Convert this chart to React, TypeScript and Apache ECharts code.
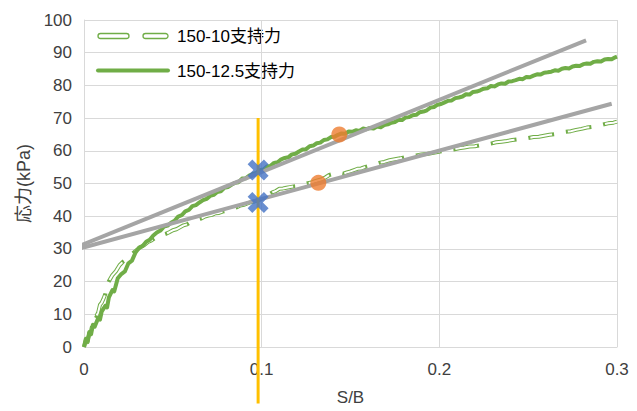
import React, { useEffect, useRef } from "react";
import * as echarts from "echarts";

// Load–settlement readings (S/B, stress kPa)
const load10: [number, number][] = [
  [0, 0], [0.001, 2.0], [0.002, 1.5], [0.003, 4.2], [0.004, 5.0], [0.005, 7.6], [0.006, 9.8], [0.007, 9.5],
  [0.008, 10.6], [0.009, 12.9], [0.010, 13.6], [0.011, 14.8], [0.012, 16.2], [0.013, 18.9], [0.014, 20.1],
  [0.016, 22.0], [0.018, 23.2], [0.020, 25.0], [0.022, 26.1], [0.024, 26.8], [0.026, 27.9], [0.028, 28.9],
  [0.030, 29.8], [0.032, 30.6], [0.034, 31.2], [0.036, 32.1], [0.038, 32.6], [0.040, 33.3], [0.042, 33.6],
  [0.044, 34.2], [0.046, 34.6], [0.048, 35.1], [0.050, 35.7], [0.052, 36.0], [0.054, 36.6], [0.056, 37.2],
  [0.058, 37.5], [0.060, 38.2], [0.062, 38.4], [0.064, 39.0], [0.066, 39.3], [0.068, 39.9], [0.070, 40.2],
  [0.072, 40.4], [0.074, 40.9], [0.076, 41.0], [0.078, 41.4], [0.080, 41.6], [0.082, 42.1], [0.084, 42.4],
  [0.086, 42.7], [0.088, 43.3], [0.090, 43.5], [0.092, 43.9], [0.094, 44.3], [0.096, 44.5], [0.098, 44.9],
  [0.100, 45.3], [0.102, 45.8], [0.104, 46.6], [0.106, 47.3], [0.108, 47.7], [0.110, 48.4], [0.112, 48.5],
  [0.114, 48.7], [0.116, 48.9], [0.118, 49.1], [0.120, 49.2], [0.122, 49.6], [0.124, 49.8], [0.126, 50.1],
  [0.128, 50.3], [0.130, 50.7], [0.132, 51.0], [0.134, 51.3], [0.136, 51.9], [0.138, 52.6], [0.140, 52.9],
  [0.142, 52.7], [0.144, 53.2], [0.146, 53.0], [0.148, 53.4], [0.150, 53.7], [0.152, 54.1], [0.154, 54.5],
  [0.156, 54.6], [0.158, 55.0], [0.160, 55.3], [0.163, 55.8], [0.166, 56.3], [0.169, 56.6], [0.172, 57.1],
  [0.175, 57.4], [0.178, 57.7], [0.181, 58.1], [0.184, 58.3], [0.187, 58.6], [0.190, 58.9], [0.193, 59.0],
  [0.196, 59.3], [0.199, 59.6], [0.202, 59.9], [0.205, 60.2], [0.208, 60.4], [0.211, 60.8], [0.214, 61.0],
  [0.217, 61.3], [0.220, 61.4], [0.223, 61.7], [0.226, 62.0], [0.229, 62.2], [0.232, 62.6], [0.235, 62.8],
  [0.238, 63.0], [0.241, 63.3], [0.244, 63.5], [0.247, 63.7], [0.250, 63.9], [0.253, 64.2], [0.256, 64.3],
  [0.259, 64.6], [0.262, 64.9], [0.265, 65.1], [0.268, 65.5], [0.271, 65.8], [0.274, 66.0], [0.277, 66.4],
  [0.280, 66.7], [0.283, 67.1], [0.286, 67.3], [0.289, 67.7], [0.292, 68.0], [0.295, 68.4], [0.298, 68.6],
  [0.300, 68.9],
];

const load125: [number, number][] = [
  [0, 0], [0.001, 2.5], [0.002, 1.8], [0.003, 4.6], [0.004, 3.9], [0.005, 6.8], [0.006, 6.2], [0.008, 8.9],
  [0.009, 8.4], [0.010, 10.9], [0.012, 12.6], [0.013, 12.1], [0.014, 15.2], [0.016, 17.4], [0.017, 17.0],
  [0.019, 21.0], [0.021, 22.3], [0.023, 23.1], [0.025, 25.6], [0.027, 26.4], [0.029, 28.9], [0.031, 30.4],
  [0.033, 30.9], [0.035, 32.2], [0.037, 32.8], [0.039, 34.1], [0.041, 35.0], [0.043, 35.6], [0.045, 36.8],
  [0.047, 37.1], [0.049, 38.0], [0.051, 38.6], [0.053, 39.9], [0.055, 40.3], [0.057, 41.5], [0.059, 41.9],
  [0.061, 43.1], [0.063, 43.4], [0.065, 44.2], [0.067, 44.9], [0.069, 45.3], [0.071, 46.2], [0.073, 46.5],
  [0.075, 47.4], [0.077, 47.6], [0.079, 48.7], [0.081, 48.9], [0.083, 49.6], [0.085, 50.2], [0.087, 50.4],
  [0.089, 51.5], [0.091, 51.6], [0.093, 52.4], [0.095, 52.9], [0.097, 53.2], [0.099, 54.1], [0.101, 54.3],
  [0.103, 55.2], [0.105, 55.4], [0.107, 56.3], [0.109, 56.5], [0.111, 57.4], [0.113, 57.8], [0.115, 58.0],
  [0.117, 58.9], [0.119, 59.1], [0.121, 59.8], [0.123, 60.4], [0.125, 60.5], [0.127, 61.4], [0.129, 61.6],
  [0.131, 62.3], [0.133, 62.5], [0.135, 63.3], [0.137, 63.5], [0.139, 64.2], [0.141, 64.3], [0.143, 64.9],
  [0.145, 65.3], [0.147, 65.2], [0.149, 65.9], [0.151, 65.8], [0.153, 66.3], [0.155, 66.1], [0.157, 66.8],
  [0.159, 66.6], [0.161, 67.0], [0.163, 66.8], [0.165, 67.4], [0.167, 67.2], [0.169, 67.9], [0.171, 68.1],
  [0.173, 68.6], [0.175, 68.8], [0.177, 69.5], [0.179, 69.4], [0.181, 70.2], [0.183, 70.3], [0.185, 70.9],
  [0.187, 71.0], [0.189, 71.8], [0.191, 72.0], [0.193, 72.4], [0.195, 73.2], [0.197, 73.4], [0.199, 74.1],
  [0.201, 74.3], [0.203, 74.8], [0.205, 75.3], [0.207, 75.4], [0.209, 76.1], [0.211, 76.3], [0.213, 76.6],
  [0.215, 77.3], [0.217, 77.2], [0.219, 78.0], [0.221, 78.1], [0.223, 78.5], [0.225, 79.0], [0.227, 79.1],
  [0.229, 79.8], [0.231, 79.7], [0.233, 80.3], [0.235, 80.6], [0.237, 80.5], [0.239, 81.2], [0.241, 81.3],
  [0.243, 81.6], [0.245, 82.0], [0.247, 81.9], [0.249, 82.6], [0.251, 82.5], [0.253, 83.0], [0.255, 83.4],
  [0.257, 83.3], [0.259, 83.9], [0.261, 84.0], [0.263, 84.2], [0.265, 84.6], [0.267, 84.5], [0.269, 85.1],
  [0.271, 85.3], [0.273, 85.2], [0.275, 85.8], [0.277, 86.0], [0.279, 85.9], [0.281, 86.5], [0.283, 86.7],
  [0.285, 86.6], [0.287, 87.2], [0.289, 87.4], [0.291, 87.3], [0.293, 87.9], [0.295, 88.1], [0.297, 88.0],
  [0.299, 88.6], [0.300, 88.8],
];

// Tangent lines through the linear stage of each curve
const tangent125: [number, number][] = [[-0.004, 30.6], [0.2826, 93.8]];
const tangent10: [number, number][] = [[-0.004, 29.9], [0.297, 74.4]];

// S/B = 0.1 reading line and the values picked on it
const readLine: [number, number][] = [[0.098, 70], [0.098, -17.3]];
const readPoints: [number, number][] = [[0.098, 54.1], [0.098, 44.2]];

// Points where each curve leaves its tangent
const departPoints: [number, number][] = [[0.1437, 65.0], [0.1319, 50.2]];

const xTicks = { min: 0, max: 0.3, interval: 0.1 };
const yTicks = { min: 0, max: 100, interval: 10 };

const seriesNames = ["150-10支持力", "150-12.5支持力"];

const FONT = "'Liberation Sans', Arial, 'Noto Sans CJK JP', sans-serif";
const GREEN = "#70AD47";
const GRID = "#D9D9D9";
const TEXT = "#404040";

const CROSS =
  "path://M0,4.5 L4.5,0 L10,5.5 L15.5,0 L20,4.5 L14.5,10 L20,15.5 L15.5,20 L10,14.5 L4.5,20 L0,15.5 L5.5,10 Z";

export default function App() {
  const ref = useRef<HTMLDivElement>(null);

  useEffect(() => {
    if (!ref.current) return;
    const chart = echarts.init(ref.current, undefined, { renderer: "svg" });

    const curveBase = {
      type: "line" as const,
      showSymbol: false,
      symbol: "none",
      smooth: false,
      silent: true,
    };

    chart.setOption({
      animation: false,
      backgroundColor: "#ffffff",
      textStyle: { fontFamily: FONT },
      grid: { left: 84, right: 20, top: 20, bottom: 63, containLabel: false },
      xAxis: {
        type: "value",
        ...xTicks,
        name: "S/B",
        nameLocation: "middle",
        nameGap: 42,
        nameTextStyle: { fontFamily: FONT, fontSize: 17, color: TEXT },
        axisLine: { show: true, lineStyle: { color: GRID, width: 1 } },
        axisTick: { show: false },
        axisLabel: { fontFamily: FONT, fontSize: 17, color: TEXT, margin: 14 },
        splitLine: { show: true, lineStyle: { color: GRID, width: 1 } },
      },
      yAxis: {
        type: "value",
        ...yTicks,
        name: "応力(kPa)",
        nameLocation: "middle",
        nameGap: 47,
        nameTextStyle: { fontFamily: FONT, fontSize: 18, color: TEXT },
        axisLine: { show: true, lineStyle: { color: GRID, width: 1 } },
        axisTick: { show: false },
        axisLabel: { fontFamily: FONT, fontSize: 17, color: TEXT, margin: 12 },
        splitLine: { show: true, lineStyle: { color: GRID, width: 1 } },
      },
      graphic: [
        // legend: hollow dashed line
        {
          type: "rect",
          shape: { x: 98, y: 33.5, width: 31, height: 5, r: 2.5 },
          style: { fill: "#ffffff", stroke: GREEN, lineWidth: 1.3 },
        },
        {
          type: "rect",
          shape: { x: 143, y: 33.5, width: 25, height: 5, r: 2.5 },
          style: { fill: "#ffffff", stroke: GREEN, lineWidth: 1.3 },
        },
        {
          type: "text",
          x: 177,
          y: 36,
          style: {
            text: seriesNames[0],
            fontFamily: FONT,
            fontSize: 17,
            fill: "#000000",
            verticalAlign: "middle",
          },
        },
        // legend: solid line
        {
          type: "line",
          shape: { x1: 98, y1: 70.5, x2: 168, y2: 70.5 },
          style: { stroke: GREEN, lineWidth: 4, lineCap: "round" },
        },
        {
          type: "text",
          x: 177,
          y: 71,
          style: {
            text: seriesNames[1],
            fontFamily: FONT,
            fontSize: 17,
            fill: "#000000",
            verticalAlign: "middle",
          },
        },
      ],
      series: [
        {
          ...curveBase,
          name: seriesNames[0],
          data: load10,
          lineStyle: { color: GREEN, width: 4, type: [26, 12], cap: "butt", join: "round" },
          z: 2,
        },
        {
          ...curveBase,
          name: seriesNames[0] + " ",
          data: load10,
          lineStyle: {
            color: "#ffffff",
            width: 2,
            type: [22, 16],
            dashOffset: -2,
            cap: "butt",
            join: "round",
          },
          z: 2,
        },
        {
          ...curveBase,
          name: seriesNames[1],
          data: load125,
          lineStyle: { color: GREEN, width: 4, join: "round" },
          z: 2,
        },
        {
          ...curveBase,
          data: tangent125,
          clip: false,
          lineStyle: { color: "#A5A5A5", width: 4 },
          z: 3,
        },
        {
          ...curveBase,
          data: tangent10,
          clip: false,
          lineStyle: { color: "#A5A5A5", width: 4 },
          z: 3,
        },
        {
          ...curveBase,
          data: readLine,
          clip: false,
          lineStyle: { color: "#FFC000", width: 3 },
          z: 4,
        },
        {
          type: "scatter",
          data: departPoints,
          symbol: "circle",
          symbolSize: 16,
          itemStyle: { color: "#ED7D31" },
          silent: true,
          z: 5,
        },
        {
          type: "scatter",
          data: readPoints,
          symbol: CROSS,
          symbolSize: 21,
          itemStyle: { color: "#4472C4" },
          silent: true,
          z: 6,
        },
      ],
    });

    return () => chart.dispose();
  }, []);

  return (
    <div
      ref={ref}
      style={{ position: "fixed", left: 0, top: 0, width: 637, height: 411 }}
    />
  );
}
